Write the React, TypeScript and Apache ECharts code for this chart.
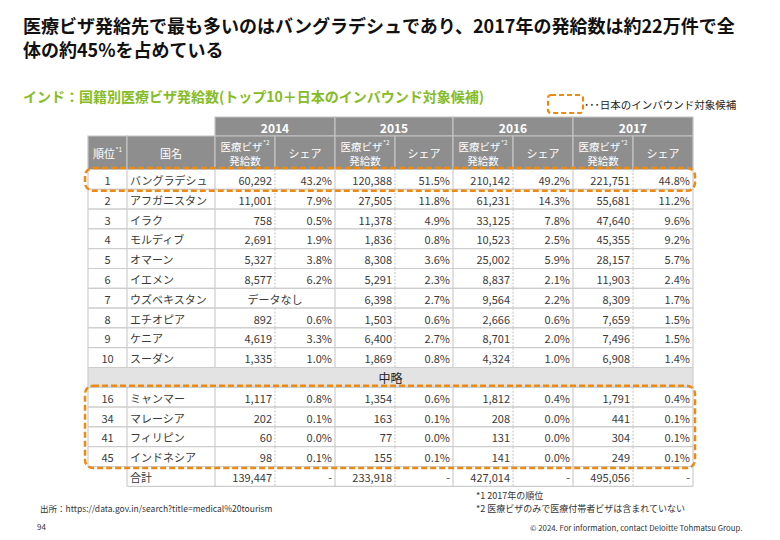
import React, { useEffect, useRef } from 'react';
import * as echarts from 'echarts';

// ---------- data ----------
const titleText = '医療ビザ発給先で最も多いのはバングラデシュであり、2017年の発給数は約22万件で全\n体の約45%を占めている';
const subtitleText = 'インド：国籍別医療ビザ発給数(トップ10＋日本のインバウンド対象候補)';
const legendText = '･･･日本のインバウンド対象候補';
const years = ['2014', '2015', '2016', '2017'];
const ranks = ['1', '2', '3', '4', '5', '6', '7', '8', '9', '10', '16', '34', '41', '45'];
const countries = [
  'バングラデシュ', 'アフガニスタン', 'イラク', 'モルディブ', 'オマーン', 'イエメン', 'ウズベキスタン',
  'エチオピア', 'ケニア', 'スーダン', 'ミャンマー', 'マレーシア', 'フィリピン', 'インドネシア',
];
const visas2014 = [60292, 11001, 758, 2691, 5327, 8577, null, 892, 4619, 1335, 1117, 202, 60, 98];
const share2014 = [43.2, 7.9, 0.5, 1.9, 3.8, 6.2, null, 0.6, 3.3, 1.0, 0.8, 0.1, 0.0, 0.1];
const visas2015 = [120388, 27505, 11378, 1836, 8308, 5291, 6398, 1503, 6400, 1869, 1354, 163, 77, 155];
const share2015 = [51.5, 11.8, 4.9, 0.8, 3.6, 2.3, 2.7, 0.6, 2.7, 0.8, 0.6, 0.1, 0.0, 0.1];
const visas2016 = [210142, 61231, 33125, 10523, 25002, 8837, 9564, 2666, 8701, 4324, 1812, 208, 131, 141];
const share2016 = [49.2, 14.3, 7.8, 2.5, 5.9, 2.1, 2.2, 0.6, 2.0, 1.0, 0.4, 0.0, 0.0, 0.0];
const visas2017 = [221751, 55681, 47640, 45355, 28157, 11903, 8309, 7659, 7496, 6908, 1791, 441, 304, 249];
const share2017 = [44.8, 11.2, 9.6, 9.2, 5.7, 2.4, 1.7, 1.5, 1.5, 1.4, 0.4, 0.1, 0.1, 0.1];
const totals = [139447, 233918, 427014, 495056];
const topCount = 10;
const headRank = '順位';
const headRankNote = '*1';
const headCountry = '国名';
const headVisaLine1 = '医療ビザ';
const headVisaNote = '*2';
const headVisaLine2 = '発給数';
const headShare = 'シェア';
const omittedLabel = '中略';
const totalLabel = '合計';
const noDataLabel = 'データなし';
const highlightGroups = [[0, 0], [11, 14]]; // row index ranges of 日本のインバウンド対象候補
const footnote1 = '*1 2017年の順位';
const footnote2 = '*2 医療ビザのみで医療付帯者ビザは含まれていない';
const sourceText = '出所：https://data.gov.in/search?title=medical%20tourism';
const pageNo = '94';
const copyrightText = '© 2024. For information, contact Deloitte Tohmatsu Group.';

// ---------- layout / style ----------
const FONT = '"Noto Sans CJK JP", "Noto Sans", sans-serif';
const TEXT = '#3a3a3a';
const GRID_LINE = '#cdcdcd';
const HEAD_FILL = '#8e8e8e';
const HEAD_LINE = '#c4c4c4';
const ORANGE = '#ee8a12';
const GREEN = '#86bc25';
const GRID_LEFT = 88;
const GRID_TOP = 169.5;
const ROW_H = 19.8;
const COL_EDGES = [0, 39, 127, 187, 247, 307, 365, 425, 485, 545, 605];
const TABLE_W = 605;

type Row = {
  kind: 'data' | 'gap' | 'total';
  rank?: string;
  country?: string;
  vals?: (number | null)[];
  shares?: (number | null)[];
};

const visasByYear = [visas2014, visas2015, visas2016, visas2017];
const sharesByYear = [share2014, share2015, share2016, share2017];
const rows: Row[] = [];
ranks.forEach((r, i) => {
  if (i === topCount) rows.push({ kind: 'gap' });
  rows.push({
    kind: 'data',
    rank: r,
    country: countries[i],
    vals: visasByYear.map((a) => a[i]),
    shares: sharesByYear.map((a) => a[i]),
  });
});
rows.push({ kind: 'total', country: totalLabel, vals: totals, shares: [null, null, null, null] });

const fmt = (v: number) => v.toLocaleString('en-US');

function tableItem(params: any, api: any) {
  const i = api.value(1) as number;
  const row = rows[i];
  const c = api.coord([0, i]);
  const h = (api.size([0, 1]) as number[])[1];
  const top = c[1] - h / 2;
  const bot = c[1] + h / 2;
  const mid = c[1];
  const X = COL_EDGES.map((e) => api.coord([e, i])[0]);
  const ch: any[] = [];
  const line = (x1: number, y1: number, x2: number, y2: number, dash?: number[]) => ({
    type: 'line',
    shape: { x1, y1, x2, y2 },
    style: { stroke: GRID_LINE, lineWidth: 1.2, lineDash: dash },
  });
  const txt = (text: string, x: number, align: string) => ({
    type: 'text',
    style: {
      text, x, y: mid + 0.5, align, verticalAlign: 'middle',
      fontSize: 11, fontFamily: FONT, fill: TEXT,
    },
  });
  if (row.kind === 'gap') {
    ch.push({
      type: 'rect',
      shape: { x: X[0], y: top, width: X[10] - X[0], height: h },
      style: { fill: '#e3e3e3', stroke: GRID_LINE, lineWidth: 1.2 },
    });
    ch.push({
      type: 'text',
      style: {
        text: omittedLabel, x: (X[0] + X[10]) / 2, y: mid, align: 'center', verticalAlign: 'middle',
        fontSize: 12, fontFamily: FONT, fill: '#222',
      },
    });
    return { type: 'group', children: ch };
  }
  const start = row.kind === 'total' ? 1 : 0;
  ch.push({
    type: 'rect',
    shape: { x: X[start], y: top, width: X[10] - X[start], height: h },
    style: { fill: '#ffffff' },
  });
  ch.push(line(X[start], top, X[10], top));
  ch.push(line(X[start], bot, X[10], bot));
  for (let k = start; k <= 10; k++) {
    const inner = k === 3 || k === 5 || k === 7 || k === 9;
    const yearIdx = (k - 3) / 2;
    if (inner && row.vals && row.vals[yearIdx] == null) continue;
    ch.push(line(X[k], top, X[k], bot, inner ? [2, 1.5] : undefined));
  }
  if (row.rank) ch.push(txt(row.rank, (X[0] + X[1]) / 2, 'center'));
  if (row.country) ch.push(txt(row.country, X[1] + 3, 'left'));
  for (let y = 0; y < 4; y++) {
    const v = row.vals![y];
    const s = row.shares![y];
    const xv = X[2 + 2 * y];
    const xs = X[3 + 2 * y];
    const xe = X[4 + 2 * y];
    if (v == null) {
      ch.push(txt(noDataLabel, (xv + xe) / 2, 'center'));
      continue;
    }
    ch.push(txt(fmt(v), xs - 3, 'right'));
    ch.push(txt(s == null ? '-' : s.toFixed(1) + '%', xe - 3, 'right'));
  }
  return { type: 'group', children: ch };
}

function boxItem(params: any, api: any) {
  const a = api.value(1) as number;
  const b = api.value(2) as number;
  const h = (api.size([0, 1]) as number[])[1];
  const p0 = api.coord([COL_EDGES[0], a]);
  const p1 = api.coord([COL_EDGES[10], b]);
  return {
    type: 'rect',
    shape: { x: p0[0] - 3, y: p0[1] - h / 2 - 1.5, width: p1[0] - p0[0] + 5, height: p1[1] - p0[1] + h + 3, r: 8 },
    style: { fill: 'none', stroke: ORANGE, lineWidth: 2.5, lineDash: [6, 3] },
    z2: 10,
  };
}

const headText = (text: string, x: number, y: number, size: number, align = 'left', weight = 'normal') => ({
  type: 'text', x, y,
  style: { text, align, verticalAlign: 'middle', fontSize: size, fontWeight: weight, fontFamily: FONT, fill: '#fff' },
});

function headerGraphics() {
  const g: any[] = [];
  const yTop = 117;
  const yMid = 136;
  const yBot = GRID_TOP;
  const cy = (yMid + yBot) / 2 + 0.5;
  years.forEach((yr, k) => {
    const x0 = GRID_LEFT + COL_EDGES[2 + 2 * k];
    const x1 = GRID_LEFT + COL_EDGES[4 + 2 * k];
    g.push({
      type: 'rect', shape: { x: x0, y: yTop, width: x1 - x0, height: yMid - yTop },
      style: { fill: HEAD_FILL, stroke: HEAD_LINE, lineWidth: 1.2 },
    });
    g.push(headText(yr, (x0 + x1) / 2, (yTop + yMid) / 2 + 0.5, 12, 'center', 'bold'));
  });
  for (let k = 0; k < 10; k++) {
    const x0 = GRID_LEFT + COL_EDGES[k];
    const x1 = GRID_LEFT + COL_EDGES[k + 1];
    const cx = (x0 + x1) / 2;
    g.push({
      type: 'rect', shape: { x: x0, y: yMid, width: x1 - x0, height: yBot - yMid },
      style: { fill: HEAD_FILL, stroke: HEAD_LINE, lineWidth: 1.2 },
    });
    if (k === 0) {
      const w = 2 * 11;
      const sx = cx - (w + 7) / 2;
      g.push(headText(headRank, sx, cy, 11));
      g.push(headText(headRankNote, sx + w + 0.5, cy - 4.5, 6.5));
    } else if (k === 1) {
      g.push(headText(headCountry, cx, cy, 11, 'center'));
    } else if (k % 2 === 0) {
      const w = 4 * 10.5;
      const sx = cx - (w + 7) / 2;
      g.push(headText(headVisaLine1, sx, cy - 7, 10.5));
      g.push(headText(headVisaNote, sx + w + 0.5, cy - 11, 6.5));
      g.push(headText(headVisaLine2, cx, cy + 7, 10.5, 'center'));
    } else {
      g.push(headText(headShare, cx, cy, 11, 'center'));
    }
  }
  return g;
}

const option: any = {
  animation: false,
  backgroundColor: '#ffffff',
  grid: { left: GRID_LEFT, top: GRID_TOP, width: TABLE_W, height: ROW_H * rows.length },
  xAxis: { type: 'value', min: 0, max: TABLE_W, show: false },
  yAxis: { type: 'category', data: rows.map((_, i) => String(i)), inverse: true, show: false },
  series: [
    {
      type: 'custom',
      renderItem: tableItem,
      data: rows.map((_, i) => [0, i]),
      encode: { x: 0, y: 1 },
      clip: false,
      silent: true,
      z: 2,
    },
    {
      type: 'custom',
      renderItem: boxItem,
      data: highlightGroups.map(([a, b]) => [0, a, b]),
      encode: { x: 0, y: 1 },
      clip: false,
      silent: true,
      z: 5,
    },
  ],
  graphic: [
    {
      type: 'text', left: 23, top: 13,
      style: { text: titleText, fontSize: 18, fontWeight: 'bold', fontFamily: FONT, fill: '#111', lineHeight: 24 },
    },
    {
      type: 'text', left: 23, top: 89,
      style: { text: subtitleText, fontSize: 14, fontWeight: 'bold', fontFamily: FONT, fill: GREEN },
    },
    {
      type: 'rect', shape: { x: 548, y: 95, width: 35, height: 18, r: 3 },
      style: { fill: 'none', stroke: ORANGE, lineWidth: 2.2, lineDash: [5, 3] },
    },
    {
      type: 'text', x: 584, y: 104,
      style: { text: legendText, verticalAlign: 'middle', fontSize: 10.5, fontFamily: FONT, fill: '#222' },
    },
    ...headerGraphics(),
    {
      type: 'text', x: 476, y: 495,
      style: { text: footnote1, verticalAlign: 'middle', fontSize: 9, fontFamily: FONT, fill: '#333' },
    },
    {
      type: 'text', x: 476, y: 508.5,
      style: { text: footnote2, verticalAlign: 'middle', fontSize: 9, fontFamily: FONT, fill: '#333' },
    },
    {
      type: 'text', x: 40, y: 508,
      style: { text: sourceText, verticalAlign: 'middle', fontSize: 8.5, fontFamily: FONT, fill: '#333' },
    },
    {
      type: 'text', x: 37, y: 526,
      style: { text: pageNo, verticalAlign: 'middle', fontSize: 8, fontFamily: FONT, fill: '#333' },
    },
    {
      type: 'text', x: 530, y: 527,
      style: { text: copyrightText, verticalAlign: 'middle', fontSize: 7.8, fontFamily: FONT, fill: '#333' },
    },
  ],
};

export default function App() {
  const ref = useRef<HTMLDivElement>(null);
  useEffect(() => {
    document.body.style.margin = '0';
    const chart = echarts.init(ref.current!, null, { renderer: 'svg' });
    chart.setOption(option);
    return () => chart.dispose();
  }, []);
  return <div ref={ref} style={{ width: 780, height: 540 }} />;
}
